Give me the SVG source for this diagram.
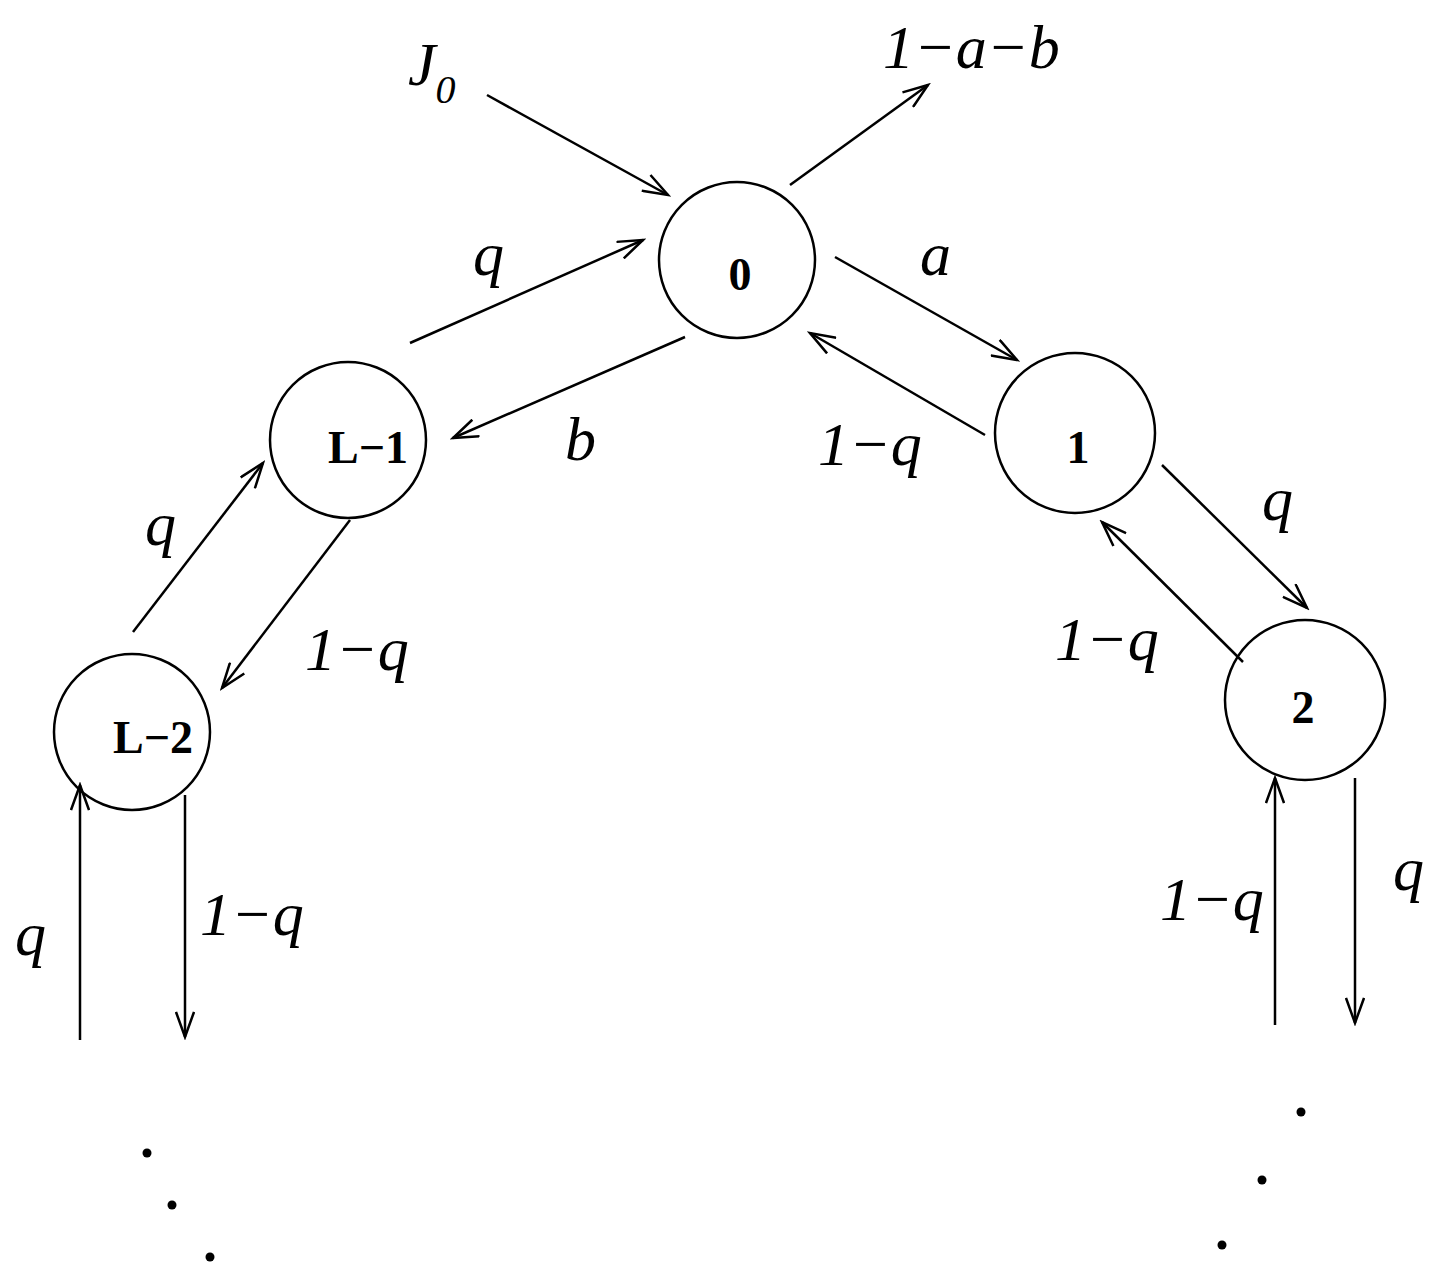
<svg xmlns="http://www.w3.org/2000/svg" width="1446" height="1271" viewBox="0 0 1446 1271">
<style>
.n{fill:none;stroke:#000;stroke-width:2.5}
.c line{stroke:#000;stroke-width:2.5;marker-end:url(#a)}
.t{font-family:"Liberation Serif",serif;font-style:italic;font-size:62px}
.nl{font-family:"Liberation Serif",serif;font-weight:bold;font-size:46px;text-anchor:middle}
</style>
<defs><marker id="a" markerWidth="30" markerHeight="20" refX="27" refY="10" orient="auto" markerUnits="userSpaceOnUse"><polyline points="2,1 27,10 2,19" fill="none" stroke="#000" stroke-width="2.5"/></marker></defs>
<rect width="1446" height="1271" fill="#fff"/>
<g id="n0"><circle class="n" cx="737" cy="260" r="78"/><text class="nl" x="740" y="290">0</text></g>
<g id="nL1"><circle class="n" cx="348" cy="440" r="78"/><text class="nl" x="368" y="463">L−1</text></g>
<g id="n1"><circle class="n" cx="1075" cy="433" r="80"/><text class="nl" x="1078" y="463">1</text></g>
<g id="nL2"><circle class="n" cx="132" cy="732" r="78"/><text class="nl" x="153" y="753">L−2</text></g>
<g id="n2"><circle class="n" cx="1305" cy="700" r="80"/><text class="nl" x="1303" y="723">2</text></g>
<g class="c" id="connectors">
<line x1="487" y1="95" x2="668" y2="195"/>
<line x1="790" y1="185" x2="928" y2="85"/>
<line x1="410" y1="343" x2="643" y2="240"/>
<line x1="685" y1="337" x2="453" y2="438"/>
<line x1="835" y1="257" x2="1017" y2="360"/>
<line x1="985" y1="435" x2="810" y2="333"/>
<line x1="1162" y1="465" x2="1307" y2="608"/>
<line x1="1243" y1="662" x2="1102" y2="522"/>
<line x1="133" y1="632" x2="263" y2="463"/>
<line x1="350" y1="520" x2="222" y2="688"/>
<line x1="80" y1="1040" x2="80" y2="785"/>
<line x1="185" y1="795" x2="185" y2="1037"/>
<line x1="1275" y1="1025" x2="1275" y2="778"/>
<line x1="1355" y1="778" x2="1355" y2="1023"/>
</g>
<g id="labels">
<text class="t" x="408" y="85">J<tspan font-size="40" dy="18">0</tspan></text>
<text class="t" x="883" y="68">1−a−b</text>
<text class="t" x="473" y="275">q</text>
<text class="t" x="920" y="275">a</text>
<text class="t" x="565" y="460">b</text>
<text class="t" x="818" y="465">1−q</text>
<text class="t" x="1262" y="520">q</text>
<text class="t" x="1055" y="660">1−q</text>
<text class="t" x="145" y="545">q</text>
<text class="t" x="305" y="670">1−q</text>
<text class="t" x="15" y="955">q</text>
<text class="t" x="200" y="935">1−q</text>
<text class="t" x="1160" y="920">1−q</text>
<text class="t" x="1393" y="890">q</text>
</g>
<g id="dots">
<circle cx="147" cy="1153" r="4.5"/><circle cx="172" cy="1205" r="4.5"/><circle cx="210" cy="1257" r="4.5"/>
<circle cx="1301" cy="1112" r="4.5"/><circle cx="1262" cy="1180" r="4.5"/><circle cx="1222" cy="1245" r="4.5"/>
</g>
</svg>
